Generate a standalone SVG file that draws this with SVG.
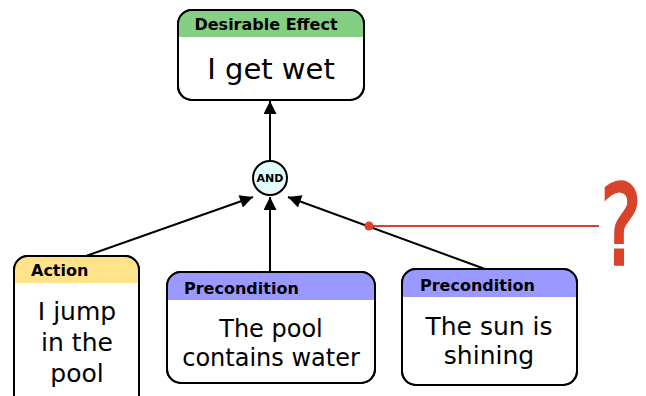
<svg xmlns="http://www.w3.org/2000/svg" width="646" height="396" viewBox="0 0 646 396">
<style>
.box{fill:#fff;stroke:#000;stroke-width:2}
.hd{font-family:"DejaVu Sans",sans-serif;font-weight:bold;font-size:16px;fill:#000}
.bd{font-family:"DejaVu Sans",sans-serif;font-size:24px;fill:#000;text-anchor:middle}
.edge{stroke:#000;stroke-width:2;fill:none;marker-end:url(#ah)}
</style>
<defs>
<marker id="ah" viewBox="0 0 10 10" refX="10" refY="5" markerWidth="7" markerHeight="6.5" orient="auto" markerUnits="strokeWidth">
<path d="M0,0 L10,5 L0,10 z" fill="#000"/>
</marker>
<clipPath id="c1"><rect x="178" y="10" width="186" height="90" rx="14"/></clipPath>
<clipPath id="c2"><rect x="14" y="256" width="125" height="160" rx="14"/></clipPath>
<clipPath id="c3"><rect x="167" y="272" width="208" height="111" rx="14"/></clipPath>
<clipPath id="c4"><rect x="402" y="269" width="175" height="116" rx="14"/></clipPath>
</defs>
<g id="connectors">
<line class="edge" x1="270" y1="160" x2="270" y2="101"/>
<line class="edge" x1="86" y1="256" x2="253" y2="197"/>
<line class="edge" x1="270" y1="272" x2="270" y2="197"/>
<line class="edge" x1="485" y1="269" x2="288" y2="197"/>
<line x1="369" y1="226" x2="599" y2="226" stroke="#d9432b" stroke-width="2"/>
<circle cx="369" cy="226" r="4.5" fill="#d9432b"/>
</g>
<g id="desirable-effect">
<rect class="box" x="178" y="10" width="186" height="90" rx="14"/>
<rect x="178" y="10" width="186" height="27" fill="#84cf84" clip-path="url(#c1)"/>
<rect x="178" y="10" width="186" height="90" rx="14" fill="none" stroke="#000" stroke-width="2"/>
<text class="hd" x="266" y="30" text-anchor="middle">Desirable Effect</text>
<text class="bd" x="271" y="79" style="font-size:29px">I get wet</text>
</g>
<g id="and">
<circle cx="270" cy="178" r="17" fill="#e2fcfc" stroke="#000" stroke-width="2"/>
<text x="270" y="182" text-anchor="middle" font-family="DejaVu Sans,sans-serif" font-weight="bold" font-size="11">AND</text>
</g>
<g id="action">
<rect class="box" x="14" y="256" width="125" height="160" rx="14"/>
<rect x="14" y="256" width="125" height="27" fill="#ffe38a" clip-path="url(#c2)"/>
<rect x="14" y="256" width="125" height="160" rx="14" fill="none" stroke="#000" stroke-width="2"/>
<text class="hd" x="31" y="276">Action</text>
<text class="bd" x="77" y="320" style="font-size:25px">I jump</text>
<text class="bd" x="77" y="351" style="font-size:25px">in the</text>
<text class="bd" x="77" y="382" style="font-size:25px">pool</text>
</g>
<g id="precondition-water">
<rect class="box" x="167" y="272" width="208" height="111" rx="14"/>
<rect x="167" y="272" width="208" height="28" fill="#9999ff" clip-path="url(#c3)"/>
<rect x="167" y="272" width="208" height="111" rx="14" fill="none" stroke="#000" stroke-width="2"/>
<text class="hd" x="184" y="294">Precondition</text>
<text class="bd" x="271" y="337">The pool</text>
<text class="bd" x="271" y="366">contains water</text>
</g>
<g id="precondition-sun">
<rect class="box" x="402" y="269" width="175" height="116" rx="14"/>
<rect x="402" y="269" width="175" height="28" fill="#9999ff" clip-path="url(#c4)"/>
<rect x="402" y="269" width="175" height="116" rx="14" fill="none" stroke="#000" stroke-width="2"/>
<text class="hd" x="420" y="291">Precondition</text>
<text class="bd" x="489" y="335" style="font-size:25px">The sun is</text>
<text class="bd" x="489" y="364" style="font-size:25px">shining</text>
</g>
<text transform="translate(621,264) scale(0.78,1.1)" text-anchor="middle" font-family="DejaVu Sans,sans-serif" font-size="100" fill="#d9432b" stroke="#d9432b" stroke-width="3">?</text>
</svg>
